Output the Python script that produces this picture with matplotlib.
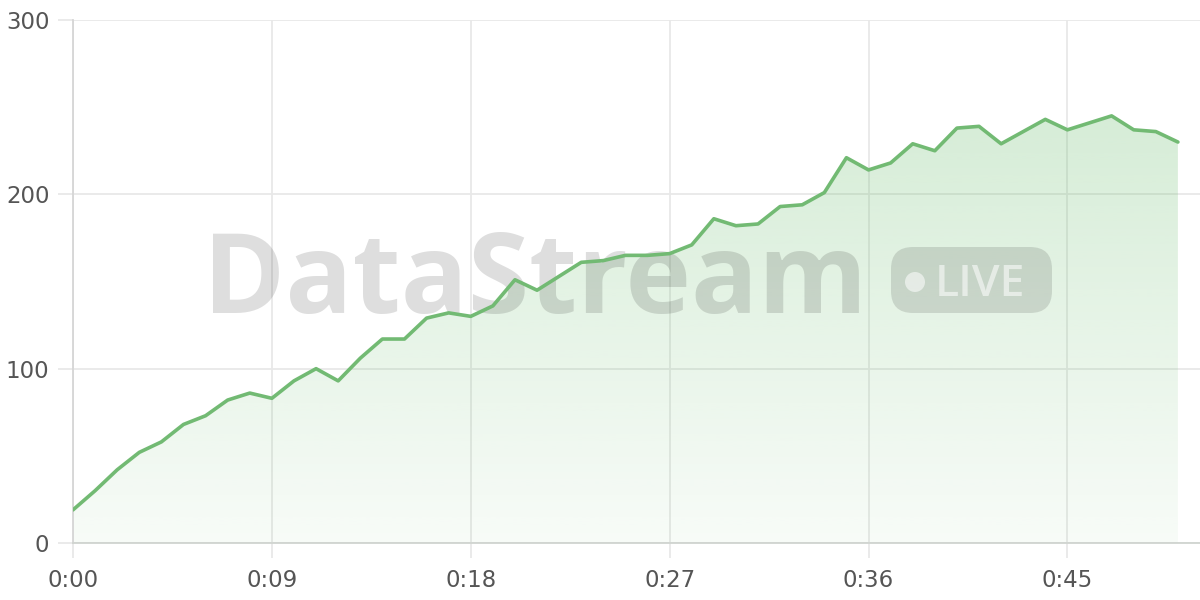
import numpy as np
import matplotlib
matplotlib.use("Agg")
import matplotlib.pyplot as plt
from matplotlib.patches import FancyBboxPatch, Circle

# seconds since start, one sample per second
seconds = list(range(51))
values = [19, 30, 42, 52, 58, 68, 73, 82, 86, 83,
          93, 100, 93, 106, 117, 117, 129, 132, 130, 136,
          151, 145, 153, 161, 162, 165, 165, 166, 171, 186,
          182, 183, 193, 194, 201, 221, 214, 218, 229, 225,
          238, 239, 229, 236, 243, 237, 241, 245, 237, 236,
          230]
x_ticks = [0, 9, 18, 27, 36, 45]
x_labels = ['0:00', '0:09', '0:18', '0:27', '0:36', '0:45']
y_ticks = [0, 100, 200, 300]

line_color = '#72ba73'
grid_color = '#e8e8e8'
text_color = '#555555'

plt.rcParams['font.family'] = ['DejaVu Sans']

fig = plt.figure(figsize=(12, 6), dpi=100)
ax = fig.add_axes([73 / 1200, 57 / 600, 1127 / 1200, 523 / 600])


def px(x, y):
    # figure pixel (top-left origin) -> inches for dpi_scale_trans
    return x / 100, (600 - y) / 100


# gradient fill under the line
fill = ax.fill_between(seconds, values, 0, color='none', lw=0)
grad = np.linspace(0.05, 0.27, 256).reshape(-1, 1)
rgba = np.zeros((256, 1, 4))
rgba[..., 0] = 102 / 255
rgba[..., 1] = 187 / 255
rgba[..., 2] = 106 / 255
rgba[..., 3] = grad
img = ax.imshow(rgba, extent=[0, 50, 0, max(values)], origin='lower',
                aspect='auto', zorder=1, interpolation='bilinear')
img.set_clip_path(fill.get_paths()[0], transform=ax.transData)

# watermark
ax.text(*px(535, 313), 'DataStream', transform=fig.dpi_scale_trans,
        fontsize=80, fontweight='bold', family=['Open Sans', 'DejaVu Sans'],
        color='black', alpha=0.13, ha='center', va='baseline', zorder=1.5)
x0, y0 = px(891, 313)
pill = FancyBboxPatch((x0 + 0.22, y0 + 0.22), 1.61 - 0.44, 0.66 - 0.44,
                      boxstyle='round,pad=0.22', transform=fig.dpi_scale_trans,
                      facecolor='black', alpha=0.12, lw=0, zorder=1.5)
ax.add_patch(pill)
ax.add_patch(Circle(px(915, 282), 0.10, transform=fig.dpi_scale_trans,
                    facecolor='white', alpha=0.55, lw=0, zorder=1.6))
ax.text(*px(935, 296), 'LIVE', transform=fig.dpi_scale_trans,
        fontsize=32, fontweight='semibold', family=['Open Sans', 'DejaVu Sans'],
        color='white', alpha=0.55, ha='left', va='baseline', zorder=1.6)

ax.plot(seconds, values, color=line_color, lw=2.6, zorder=3,
        solid_joinstyle='round', solid_capstyle='round')

ax.set_xlim(0, 51)
ax.set_ylim(0, 300)
ax.set_xticks(x_ticks)
ax.set_xticklabels(x_labels)
ax.set_yticks(y_ticks)
ax.grid(True, color=grid_color, lw=1.3, zorder=0)
ax.set_axisbelow(True)
ax.tick_params(axis='both', length=11, width=1.3, color=grid_color,
               labelsize=16.5, labelcolor=text_color)
ax.tick_params(axis='y', pad=6)
ax.tick_params(axis='x', pad=8)
for s in ['top', 'right']:
    ax.spines[s].set_visible(False)
ax.spines['left'].set_color('#d6d6d6')
ax.spines['bottom'].set_color('#d0d4d0')
ax.spines['left'].set_linewidth(1.3)
ax.spines['bottom'].set_linewidth(1.3)

fig.savefig('out.png', dpi=100)
